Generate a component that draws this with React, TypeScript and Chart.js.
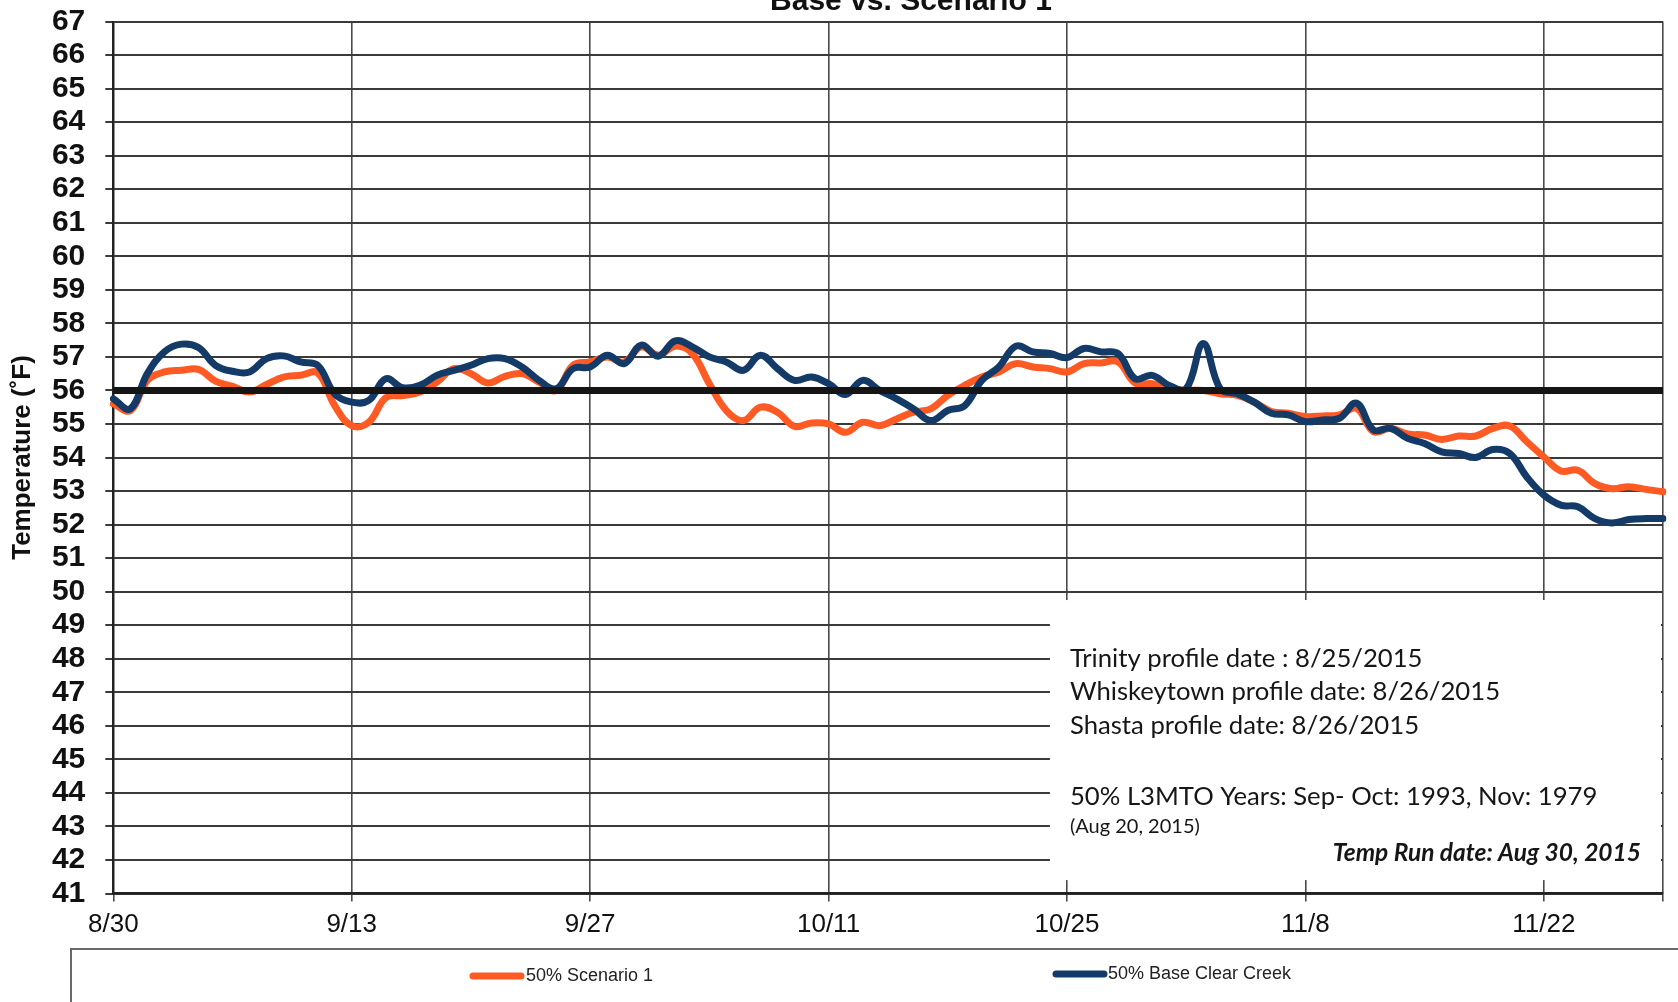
import React, { useEffect, useRef } from 'react';
import { Chart, registerables } from 'chart.js';

Chart.register(...registerables);

const W = 1678;
const H = 1002;

// ---- data ----
const START_YEAR = 2015;
const START_MONTH = 8; // August
const START_DAY = 30;
const N_DAYS = 92;
const TICK_STEP = 14;
const TICK_LABELS = ['8/30', '9/13', '9/27', '10/11', '10/25', '11/8', '11/22'];
const Y_MIN = 41;
const Y_MAX = 67;
const TARGET = 56;

const SCENARIO_1 = [
  55.6, 55.4, 56.3, 56.55, 56.6, 56.63, 56.28, 56.12, 55.95, 56.18,
  56.4, 56.45, 56.52, 55.55, 54.95, 55.05, 55.78, 55.85, 55.95, 56.25,
  56.65, 56.5, 56.22, 56.42, 56.5, 56.25, 56.0, 56.75, 56.85, 57.0,
  56.85, 57.3, 57.05, 57.32, 57.1, 56.2, 55.4, 55.1, 55.5, 55.35,
  54.93, 55.03, 55.0, 54.75, 55.05, 54.95, 55.15, 55.35, 55.45, 55.85,
  56.15, 56.4, 56.55, 56.8, 56.7, 56.65, 56.55, 56.8, 56.82, 56.85,
  56.22, 56.2, 56.05, 56.0, 56.0, 55.9, 55.85, 55.65, 55.37, 55.32,
  55.22, 55.24, 55.27, 55.47, 54.77, 54.87, 54.7, 54.67, 54.54, 54.64,
  54.64, 54.87, 54.94, 54.47, 54.02, 53.6, 53.62, 53.22, 53.07, 53.13,
  53.05, 52.98,
];

const BASE_CLEAR_CREEK = [
  55.75, 55.45, 56.5, 57.15, 57.38, 57.28, 56.75, 56.57, 56.55, 56.95,
  57.03, 56.85, 56.75, 55.9, 55.65, 55.7, 56.35, 56.08, 56.15, 56.45,
  56.6, 56.75, 56.95, 56.95, 56.7, 56.3, 56.05, 56.65, 56.7, 57.05,
  56.8, 57.35, 57.02, 57.48, 57.3, 57.0, 56.85, 56.6, 57.05, 56.65,
  56.3, 56.4, 56.2, 55.88, 56.3, 56.0, 55.75, 55.45, 55.1, 55.4,
  55.55, 56.3, 56.7, 57.32, 57.15, 57.1, 56.98, 57.25, 57.15, 57.1,
  56.35, 56.45, 56.15, 56.05, 57.4, 56.05, 55.9, 55.65, 55.32, 55.27,
  55.07, 55.12, 55.17, 55.62, 54.82, 54.87, 54.57, 54.42, 54.17, 54.12,
  54.0, 54.24, 54.12, 53.42, 52.88, 52.58, 52.53, 52.18, 52.05, 52.15,
  52.18, 52.18,
];

const SERIES_NAMES = ['50% Scenario 1', '50% Base Clear Creek'];
const TITLE = 'Base vs. Scenario 1';
const Y_TITLE = 'Temperature (˚F)';
const NOTES = [
  'Trinity profile date : 8/25/2015',
  'Whiskeytown profile date: 8/26/2015',
  'Shasta profile date: 8/26/2015',
  '50% L3MTO Years: Sep- Oct: 1993, Nov: 1979',
];
const NOTE_SMALL = '(Aug 20, 2015)';
const RUN_DATE = 'Temp Run date: Aug 30, 2015';

// ---- styles ----
const ORANGE = '#FF5A24';
const BLUE = '#143B68';
const BLACK = '#151515';
const ARIAL = "'Liberation Sans', Arial, sans-serif";
const NOTE_FONT = "Lato, 'Open Sans', sans-serif";

const CATEGORIES = Array.from({ length: N_DAYS }, (_, i) => {
  const d = new Date(START_YEAR, START_MONTH - 1, START_DAY + i);
  return `${d.getMonth() + 1}/${d.getDate()}`;
});
const TARGET_SERIES = CATEGORIES.map(() => TARGET);

const decorPlugin = {
  id: 'decor',
  beforeDatasetsDraw(chart: any) {
    const { ctx, chartArea: a, scales } = chart;
    const x = scales.x;
    const y = scales.y;
    const left = x.getPixelForValue(55);
    const top = y.getPixelForValue(49.75);
    const bottom = y.getPixelForValue(41.4);
    ctx.save();
    ctx.fillStyle = '#ffffff';
    ctx.fillRect(left, top, a.right - 2 - left, bottom - top);
    ctx.restore();
  },
  afterDraw(chart: any) {
    const { ctx, scales } = chart;
    const x = scales.x;
    const left = x.getPixelForValue(55);
    ctx.save();
    // chart title (partly off the top edge)
    ctx.fillStyle = '#111';
    ctx.textAlign = 'center';
    ctx.textBaseline = 'alphabetic';
    ctx.font = `bold 30px ${ARIAL}`;
    ctx.fillText(TITLE, 911, 10);

    // annotation text
    ctx.textAlign = 'left';
    ctx.fillStyle = '#161616';
    ctx.font = `25.7px ${NOTE_FONT}`;
    const tx = left + 20;
    const baselines = [667, 700, 734, 805];
    NOTES.forEach((t, i) => ctx.fillText(t, tx, baselines[i]));
    ctx.font = `20px ${NOTE_FONT}`;
    ctx.fillText(NOTE_SMALL, tx, 833);
    ctx.textAlign = 'right';
    ctx.font = `italic bold 24.5px ${NOTE_FONT}`;
    ctx.fillText(RUN_DATE, 1641, 861);

    // legend box
    ctx.strokeStyle = '#6a6a6a';
    ctx.lineWidth = 2;
    ctx.beginPath();
    ctx.moveTo(71, H + 5);
    ctx.lineTo(71, 949);
    ctx.lineTo(W + 5, 949);
    ctx.stroke();

    const items = [
      { name: SERIES_NAMES[0], color: ORANGE, x0: 473, x1: 521, y: 976, tx: 526 },
      { name: SERIES_NAMES[1], color: BLUE, x0: 1056, x1: 1104, y: 974, tx: 1108 },
    ];
    ctx.textAlign = 'left';
    ctx.textBaseline = 'middle';
    ctx.font = `18px ${ARIAL}`;
    items.forEach((it) => {
      ctx.strokeStyle = it.color;
      ctx.lineWidth = 7;
      ctx.lineCap = 'round';
      ctx.beginPath();
      ctx.moveTo(it.x0, it.y);
      ctx.lineTo(it.x1, it.y);
      ctx.stroke();
      ctx.fillStyle = '#222';
      ctx.fillText(it.name, it.tx, it.y);
    });
    ctx.restore();
  },
};

export default function App() {
  const ref = useRef<HTMLCanvasElement>(null);

  useEffect(() => {
    const canvas = ref.current;
    if (!canvas) return;
    const chart = new Chart(canvas, {
      type: 'line',
      data: {
        labels: CATEGORIES,
        datasets: [
          {
            label: 'Target',
            data: TARGET_SERIES,
            borderColor: BLACK,
            borderWidth: 7,
            pointRadius: 0,
            tension: 0,
            order: 0,
          },
          {
            label: SERIES_NAMES[1],
            data: BASE_CLEAR_CREEK,
            borderColor: BLUE,
            borderWidth: 7,
            pointRadius: 0,
            tension: 0.4,
            borderCapStyle: 'round',
            borderJoinStyle: 'round',
            order: 1,
          },
          {
            label: SERIES_NAMES[0],
            data: SCENARIO_1,
            borderColor: ORANGE,
            borderWidth: 7,
            pointRadius: 0,
            tension: 0.4,
            borderCapStyle: 'round',
            borderJoinStyle: 'round',
            order: 2,
          },
        ],
      },
      options: {
        responsive: false,
        animation: false,
        devicePixelRatio: 1,
        layout: { padding: { top: 21.5, right: 15, left: 0, bottom: 0 } },
        plugins: {
          legend: { display: false },
          tooltip: { enabled: false },
          title: { display: false },
        },
        scales: {
          x: {
            type: 'category',
            offset: false,
            grid: {
              color: (c: any) =>
                c.index % TICK_STEP === 0 || c.index === N_DAYS - 1 ? '#4a4a4a' : 'rgba(0,0,0,0)',
              lineWidth: 1.6,
              tickLength: 8,
            },
            border: { color: '#222', width: 2.5 },
            ticks: {
              autoSkip: false,
              maxRotation: 0,
              minRotation: 0,
              padding: 8,
              color: '#111',
              font: { family: ARIAL, size: 26 },
              callback: (_v: any, i: number) =>
                i % TICK_STEP === 0 ? TICK_LABELS[i / TICK_STEP] ?? '' : '',
            },
            afterFit: (s: any) => {
              s.height = H - 893.5;
              s.paddingRight = 0;
            },
          },
          y: {
            min: Y_MIN,
            max: Y_MAX,
            ticks: {
              stepSize: 1,
              autoSkip: false,
              padding: 20,
              color: '#111',
              font: { family: ARIAL, size: 30, weight: 'bold' },
            },
            grid: { color: '#3a3a3a', lineWidth: 2, tickLength: 8 },
            border: { color: '#222', width: 2 },
            title: {
              display: true,
              text: Y_TITLE,
              color: '#111',
              font: { family: ARIAL, size: 26, weight: 'bold' },
              padding: { top: 7, bottom: 0 },
            },
            afterFit: (s: any) => {
              s.width = 113.3;
              s.paddingTop = 0;
              s.paddingBottom = 0;
            },
          },
        },
      },
      plugins: [decorPlugin],
    } as any);
    return () => chart.destroy();
  }, []);

  return (
    <div style={{ position: 'absolute', left: 0, top: 0, width: W, height: H, background: '#fff', overflow: 'hidden' }}>
      <canvas ref={ref} width={W} height={H} style={{ display: 'block', width: W, height: H }} />
    </div>
  );
}
